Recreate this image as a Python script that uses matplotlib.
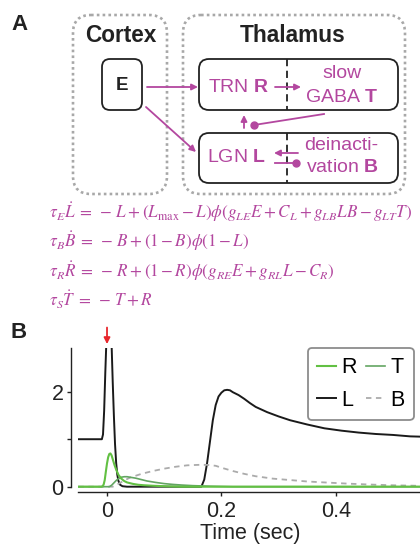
import numpy as np
import matplotlib
matplotlib.use('Agg')
import matplotlib.pyplot as plt
from matplotlib.patches import FancyBboxPatch

plt.rcParams['font.family'] = ['Liberation Sans', 'DejaVu Sans']
plt.rcParams['mathtext.fontset'] = 'custom'
plt.rcParams['mathtext.rm'] = 'Liberation Sans'
plt.rcParams['mathtext.bf'] = 'Liberation Sans:bold'
plt.rcParams['mathtext.it'] = 'Liberation Sans:italic'

# --- data (panel B) ---
t_L = [-0.05, -0.009, -0.007, -0.005, -0.003, -0.001, 0.002, 0.005, 0.008, 0.010,
       0.012, 0.014, 0.016, 0.018, 0.020, 0.023, 0.027, 0.035, 0.165, 0.170,
       0.175, 0.180, 0.185, 0.190, 0.195, 0.200, 0.205, 0.210, 0.215, 0.220,
       0.230, 0.240, 0.250, 0.260, 0.280, 0.300, 0.320, 0.350, 0.380, 0.410,
       0.440, 0.470, 0.500, 0.530, 0.560]
L = [1.0, 1.0, 1.1, 1.6, 2.4, 3.1, 3.5, 3.4, 3.0, 2.2,
     1.5, 0.9, 0.5, 0.25, 0.12, 0.04, 0.01, 0.0, 0.0, 0.15,
     0.5, 0.95, 1.4, 1.72, 1.9, 1.98, 2.03, 2.04, 2.03, 1.99,
     1.93, 1.85, 1.76, 1.68, 1.57, 1.48, 1.40, 1.31, 1.23, 1.18,
     1.14, 1.11, 1.09, 1.06, 1.05]

t_R = [-0.05, -0.009, -0.006, -0.004, -0.002, 0.0, 0.002, 0.004, 0.006, 0.008,
       0.010, 0.013, 0.016, 0.020, 0.025, 0.030, 0.035, 0.045, 0.055, 0.065,
       0.080, 0.100, 0.130, 0.560]
R = [0, 0, 0.04, 0.14, 0.32, 0.49, 0.62, 0.69, 0.70, 0.66,
     0.58, 0.46, 0.36, 0.25, 0.17, 0.12, 0.09, 0.06, 0.04, 0.03,
     0.02, 0.01, 0.0, 0.0]

t_T = [-0.05, 0.004, 0.008, 0.012, 0.016, 0.020, 0.025, 0.030, 0.035, 0.040,
       0.050, 0.060, 0.070, 0.085, 0.100, 0.115, 0.130, 0.150, 0.180, 0.220, 0.560]
T = [0, 0, 0.03, 0.08, 0.13, 0.17, 0.20, 0.21, 0.21, 0.20,
     0.18, 0.15, 0.12, 0.09, 0.065, 0.048, 0.035, 0.022, 0.01, 0.0, 0.0]

t_B = [-0.05, 0.010, 0.020, 0.030, 0.040, 0.050, 0.060, 0.080, 0.100, 0.120,
       0.140, 0.160, 0.175, 0.190, 0.200, 0.220, 0.240, 0.260, 0.290, 0.320,
       0.350, 0.380, 0.420, 0.460, 0.500, 0.560]
B = [0, 0, 0.06, 0.13, 0.19, 0.23, 0.27, 0.33, 0.38, 0.42,
     0.45, 0.46, 0.46, 0.44, 0.40, 0.33, 0.27, 0.22, 0.17, 0.14,
     0.11, 0.09, 0.065, 0.045, 0.03, 0.015]

x_ticks = [0, 0.2, 0.4]
x_ticklabels = ['0', '0.2', '0.4']
y_ticks = [0, 1, 2]
y_ticklabels = ['0', '', '2']

equations = [
    r'$\tau_E\dot{L}\;=\;-\,L+(L_{\max}-L)\phi(g_{LE}E+C_L+g_{LB}LB-g_{LT}T)$',
    r'$\tau_B\dot{B}\;=\;-\,B+(1-B)\phi(1-L)$',
    r'$\tau_R\dot{R}\;=\;-\,R+(1-R)\phi(g_{RE}E+g_{RL}L-C_R)$',
    r'$\tau_S\dot{T}\;=\;-\,T+R$',
]

mag = '#B3479F'
c_R = '#62C043'
c_T = '#63A562'
c_B = '#ABABAB'
ink = '#222222'

fig = plt.figure(figsize=(4.2, 5.44), dpi=100)

# --- panel A: diagram, drawn in pixel coordinates ---
ax0 = fig.add_axes([0, 0, 1, 1])
ax0.set_xlim(0, 420)
ax0.set_ylim(544, 0)
ax0.axis('off')

def rbox(x0, y0, x1, y1, r, **kw):
    p = FancyBboxPatch((x0, y0), x1 - x0, y1 - y0,
                       boxstyle=f'round,pad=0,rounding_size={r}', fc='none', **kw)
    ax0.add_patch(p)

dotted = dict(ec='#A8A8A8', lw=1.9, linestyle=(0, (1, 1.2)))
rbox(73, 15, 167, 194, 18, **dotted)
rbox(183, 15, 405, 194, 18, **dotted)
rbox(102, 59, 142, 110, 8, ec=ink, lw=1.3)
rbox(199, 59, 398, 110, 10, ec=ink, lw=1.3)
rbox(199, 133, 398, 183, 10, ec=ink, lw=1.3)
ax0.plot([287, 287], [59, 110], color=ink, lw=1.3, ls=(0, (4, 2.5)))
ax0.plot([287, 287], [133, 183], color=ink, lw=1.3, ls=(0, (4, 2.5)))

ax0.text(19, 25, 'A', fontsize=16, fontweight='bold', ha='center', va='center', color=ink)
ax0.text(19, 333, 'B', fontsize=16, fontweight='bold', ha='center', va='center', color=ink)
ax0.text(121, 36, 'Cortex', fontsize=16.3, fontweight='bold', ha='center', va='center', color=ink)
ax0.text(293, 36, 'Thalamus', fontsize=16.3, fontweight='bold', ha='center', va='center', color=ink)
ax0.text(122, 86, 'E', fontsize=13.5, fontweight='bold', ha='center', va='center', color=ink)

lab = dict(fontsize=14, ha='center', va='center', color=mag, math_fontfamily='custom')
ax0.text(239, 87, r'TRN $\mathbf{R}$', **lab)
ax0.text(342, 73, 'slow', **lab)
ax0.text(342, 98, r'GABA $\mathbf{T}$', **lab)
ax0.text(236, 158, r'LGN $\mathbf{L}$', **lab)
ax0.text(341, 145, 'deinacti-', **lab)
ax0.text(342, 168, r'vation $\mathbf{B}$', **lab)

def arrow(tail, tip):
    ax0.annotate('', xy=tip, xytext=tail,
                 arrowprops=dict(arrowstyle='-|>', color=mag, lw=1.3,
                                 mutation_scale=9, shrinkA=0, shrinkB=0))

def inhib(tail, dot):
    ax0.plot([tail[0], dot[0]], [tail[1], dot[1]], color=mag, lw=1.3)
    ax0.plot([dot[0]], [dot[1]], 'o', color=mag, ms=5)

arrow((147, 87), (198, 87))
arrow((146, 107), (196, 152))
arrow((275, 87), (301, 87))
inhib((324, 114), (254, 125))
arrow((244, 128), (244, 115))
arrow((298, 153), (274, 153))
inhib((275, 163), (296, 163))

for i, eq in enumerate(equations):
    ax0.text(49, 212 + i * 29.3, eq, fontsize=12.3, color=mag, ha='left', va='center',
             math_fontfamily='stix')

# --- panel B: time courses ---
ax = fig.add_axes([0.1867, 0.1001, 0.8171, 0.2601])
ax.patch.set_alpha(0)
ax.plot(t_L, L, color='#1a1a1a', lw=1.4, label='L', zorder=2)
ax.plot(t_B, B, color=c_B, lw=1.3, ls=(0, (3, 2.5)), label='B', zorder=3)
ax.plot(t_T, T, color=c_T, lw=1.2, label='T', zorder=4)
ax.plot(t_R, R, color=c_R, lw=1.5, label='R', zorder=5)
ax.set_xlim(-0.05, 0.55)
ax.set_ylim(-0.06, 2.92)

for s in ['top', 'right']:
    ax.spines[s].set_visible(False)
ax.spines['left'].set_position(('outward', 5.3))
ax.spines['left'].set_bounds(0, 2.92)
ax.spines['bottom'].set_position(('outward', 1.8))
for s in ['left', 'bottom']:
    ax.spines[s].set_linewidth(1.0)
    ax.spines[s].set_color(ink)

ax.set_xticks(x_ticks)
ax.set_xticklabels(x_ticklabels)
ax.set_yticks(y_ticks)
ax.set_yticklabels(y_ticklabels)
ax.tick_params(labelsize=15.5, length=3, width=1.0, pad=2.5, colors=ink)
ax.tick_params(axis='x', pad=3.5)
ax.set_xlabel('Time (sec)', fontsize=15.5, labelpad=0.5, color=ink)

hmap = {h.get_label(): h for h in ax.get_lines()}
order = ['R', 'L', 'T', 'B']
leg = ax.legend([hmap[k] for k in order], order, ncol=2, loc='upper right',
                bbox_to_anchor=(0.977, 1.0), borderaxespad=0, fontsize=15.5,
                handlelength=0.9, handletextpad=0.25, columnspacing=0.4,
                labelspacing=0.55, borderpad=0.42, fancybox=True, framealpha=1)
leg.get_frame().set_edgecolor('#8C8C8C')
leg.get_frame().set_linewidth(1.3)

ax.annotate('', xy=(0, 1.028), xycoords=('data', 'axes fraction'),
            xytext=(0, 1.145), textcoords=('data', 'axes fraction'),
            arrowprops=dict(arrowstyle='-|>', color='#E8262B', lw=1.3,
                            mutation_scale=9, shrinkA=0, shrinkB=0),
            annotation_clip=False)

fig.savefig('out.png', dpi=100)
